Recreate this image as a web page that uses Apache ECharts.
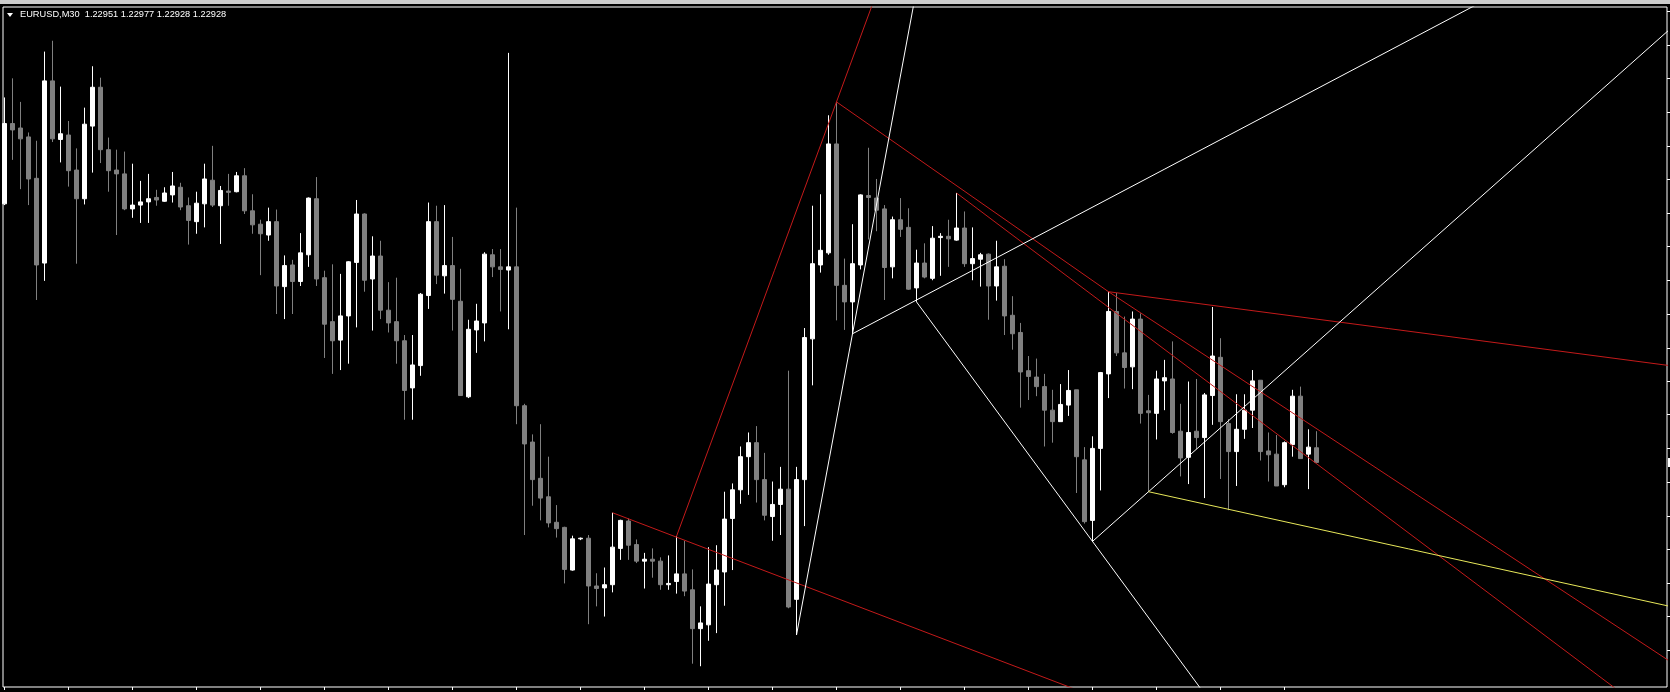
<!DOCTYPE html>
<html>
<head>
<meta charset="utf-8">
<script src="https://cdn.jsdelivr.net/npm/echarts@6/dist/echarts.min.js"></script>
<style>
  html, body { margin: 0; padding: 0; background: #000; }
  #chart { width: 1670px; height: 692px; }
</style>
</head>
<body>
<div id="chart"></div>
<script>
// EURUSD, 30-minute bars
const symbol = 'EURUSD';
const period = 'M30';

const opens = [
  1.23334,1.23460,1.23453,1.23439,1.23374,1.23241,1.23527,1.23435,1.23442,1.23387,
  1.23342,1.23456,1.23517,1.23419,1.23387,1.23381,1.23326,1.23332,1.23337,1.23344,
  1.23338,1.23348,1.23360,1.23331,1.23306,1.23334,1.23371,1.23331,1.23354,1.23353,
  1.23378,1.23323,1.23302,1.23285,1.23306,1.23204,1.23238,1.23212,1.23254,1.23342,
  1.23218,1.23149,1.23120,1.23158,1.23242,1.23318,1.23216,1.23252,1.23167,1.23149,
  1.23119,1.23045,1.23080,1.23190,1.23306,1.23221,1.23237,1.23181,1.23031,1.23136,
  1.23147,1.23254,1.23235,1.23230,1.23235,1.23017,1.22960,1.22903,1.22874,1.22834,
  1.22826,1.22759,1.22808,1.22809,1.22734,1.22731,1.22736,1.22793,1.22836,1.22799,
  1.22773,1.22776,1.22773,1.22736,1.22741,1.22753,1.22728,1.22667,1.22673,1.22736,
  1.22756,1.22840,1.22885,1.22937,1.22959,1.22901,1.22843,1.22862,1.22886,1.22713,
  1.22901,1.23122,1.23238,1.23257,1.23428,1.23206,1.23180,1.23238,1.23347,1.23343,
  1.23326,1.23235,1.23309,1.23297,1.23202,1.23241,1.23217,1.23281,1.23283,1.23277,
  1.23296,1.23240,1.23247,1.23255,1.23205,1.23236,1.23159,1.23132,1.23072,1.23062,
  1.23047,1.23010,1.22992,1.23018,1.23042,1.22932,1.22837,1.22950,1.23067,1.23165,
  1.23100,1.23078,1.23153,1.23009,1.23005,1.23056,1.23059,1.22977,1.22936,1.22977,
  1.22967,1.23033,1.23093,1.22989,1.22945,1.22980,1.23010,1.23057,1.22946,1.22941,
  1.22893,1.22956,1.23032,1.22941,1.22951
];
const highs = [
  1.23501,1.23531,1.23494,1.23446,1.23433,1.23573,1.23590,1.23518,1.23464,1.23421,
  1.23485,1.23550,1.23532,1.23438,1.23419,1.23416,1.23397,1.23370,1.23381,1.23356,
  1.23360,1.23384,1.23367,1.23344,1.23353,1.23397,1.23425,1.23362,1.23381,1.23384,
  1.23390,1.23349,1.23309,1.23328,1.23325,1.23253,1.23246,1.23288,1.23344,1.23376,
  1.23229,1.23239,1.23224,1.23244,1.23340,1.23319,1.23283,1.23276,1.23211,1.23218,
  1.23128,1.23128,1.23194,1.23336,1.23331,1.23332,1.23282,1.23232,1.23152,1.23177,
  1.23258,1.23263,1.23263,1.23571,1.23328,1.23020,1.22972,1.22988,1.22937,1.22861,
  1.22827,1.22813,1.22810,1.22814,1.22754,1.22763,1.22849,1.22838,1.22840,1.22807,
  1.22786,1.22793,1.22779,1.22782,1.22812,1.22805,1.22760,1.22702,1.22795,1.22798,
  1.22882,1.22895,1.22953,1.22975,1.22985,1.22943,1.22898,1.22921,1.23072,1.22921,
  1.23139,1.23331,1.23349,1.23473,1.23494,1.23248,1.23302,1.23349,1.23422,1.23373,
  1.23332,1.23314,1.23343,1.23327,1.23262,1.23272,1.23299,1.23288,1.23309,1.23351,
  1.23322,1.23297,1.23257,1.23256,1.23276,1.23247,1.23189,1.23147,1.23095,1.23091,
  1.23067,1.23042,1.23051,1.23073,1.23042,1.22952,1.22969,1.23070,1.23196,1.23194,
  1.23157,1.23165,1.23162,1.23034,1.23072,1.23089,1.23118,1.23020,1.23055,1.23059,
  1.23037,1.23172,1.23123,1.22996,1.23035,1.23035,1.23073,1.23057,1.22975,1.22971,
  1.22961,1.23042,1.23047,1.22980,1.22977
];
const lows = [
  1.23332,1.23403,1.23357,1.23332,1.23183,1.23213,1.23431,1.23399,1.23361,1.23240,
  1.23333,1.23383,1.23398,1.23353,1.23285,1.23324,1.23312,1.23304,1.23304,1.23331,
  1.23337,1.23336,1.23324,1.23270,1.23287,1.23297,1.23329,1.23271,1.23331,1.23352,
  1.23318,1.23287,1.23222,1.23276,1.23161,1.23153,1.23161,1.23205,1.23235,1.23205,
  1.23092,1.23067,1.23073,1.23083,1.23140,1.23196,1.23135,1.23153,1.23132,1.23083,
  1.22995,1.22995,1.23064,1.23169,1.23208,1.23193,1.23135,1.23033,1.23029,1.23100,
  1.23118,1.23219,1.23165,1.23137,1.22988,1.22814,1.22860,1.22837,1.22826,1.22810,
  1.22738,1.22758,1.22806,1.22674,1.22702,1.22686,1.22724,1.22775,1.22775,1.22770,
  1.22730,1.22747,1.22728,1.22728,1.22722,1.22718,1.22612,1.22608,1.22648,1.22660,
  1.22703,1.22759,1.22863,1.22877,1.22865,1.22837,1.22805,1.22814,1.22699,1.22657,
  1.22828,1.23049,1.23226,1.23254,1.23151,1.23136,1.23130,1.23231,1.23278,1.23291,
  1.23183,1.23217,1.23282,1.23199,1.23180,1.23217,1.23214,1.23221,1.23235,1.23276,
  1.23235,1.23214,1.23204,1.23152,1.23182,1.23128,1.23105,1.23014,1.23026,1.23032,
  1.22953,1.22959,1.22992,1.23001,1.22880,1.22832,1.22804,1.22884,1.23029,1.23095,
  1.23044,1.23043,1.22989,1.22882,1.22964,1.23010,1.22973,1.22906,1.22894,1.22949,
  1.22872,1.22987,1.22902,1.22853,1.22891,1.22965,1.22982,1.22931,1.22898,1.22891,
  1.22889,1.22937,1.22934,1.22886,1.22928
];
const closes = [
  1.23460,1.23450,1.23436,1.23373,1.23238,1.23527,1.23436,1.23444,1.23386,1.23342,
  1.23459,1.23517,1.23419,1.23386,1.23381,1.23326,1.23332,1.23337,1.23342,1.23340,
  1.23351,1.23362,1.23329,1.23308,1.23335,1.23373,1.23332,1.23355,1.23352,1.23378,
  1.23323,1.23301,1.23287,1.23306,1.23205,1.23237,1.23212,1.23257,1.23343,1.23216,
  1.23145,1.23119,1.23158,1.23243,1.23318,1.23214,1.23252,1.23167,1.23147,1.23119,
  1.23041,1.23081,1.23192,1.23306,1.23222,1.23237,1.23184,1.23033,1.23137,1.23150,
  1.23255,1.23235,1.23231,1.23235,1.23017,1.22957,1.22901,1.22872,1.22833,1.22824,
  1.22760,1.22808,1.22809,1.22734,1.22730,1.22736,1.22795,1.22837,1.22798,1.22773,
  1.22776,1.22773,1.22736,1.22738,1.22753,1.22726,1.22667,1.22676,1.22737,1.22759,
  1.22839,1.22885,1.22937,1.22959,1.22901,1.22845,1.22862,1.22886,1.22701,1.22901,
  1.23124,1.23240,1.23261,1.23428,1.23206,1.23180,1.23240,1.23348,1.23344,1.23324,
  1.23234,1.23309,1.23294,1.23200,1.23241,1.23219,1.23280,1.23283,1.23279,1.23296,
  1.23240,1.23248,1.23254,1.23205,1.23235,1.23158,1.23130,1.23070,1.23063,1.23047,
  1.23010,1.22992,1.23019,1.23041,1.22937,1.22835,1.22950,1.23069,1.23165,1.23100,
  1.23077,1.23153,1.23005,1.23006,1.23059,1.23061,1.22975,1.22935,1.22975,1.22967,
  1.23034,1.23095,1.22992,1.22945,1.22980,1.23010,1.23056,1.22945,1.22940,1.22891,
  1.22959,1.23032,1.22934,1.22952,1.22928
];

// time-scale tick every 8 bars (4 hours)
const timeTickStep = 8;
// price-scale tick values
const priceTicks = [
  1.22633,1.22686,1.22739,1.22791,1.22844,1.22897,1.22950,1.23003,1.23055,1.23108,
  1.23161,1.23214,1.23267,1.23319,1.23372,1.23425,1.23478,1.23531,1.23583,1.23636
];

// trend lines: [bar index, price] anchor pairs
const redRays = [
  [[76, 1.22849], [100, 1.22734]],
  [[84, 1.22812], [104, 1.23494]],
  [[119, 1.23351], [164, 1.22926]],
  [[138, 1.23196], [164, 1.23153]],
  [[138, 1.23196], [164, 1.22981]]
];
const redSegments = [
  [[104, 1.23494], [138, 1.23196]]
];
const whiteRays = [
  [[99, 1.22657], [106, 1.23130]],
  [[106, 1.23130], [114, 1.23183]],
  [[114, 1.23180], [136, 1.22804]],
  [[136, 1.22804], [143, 1.22882]]
];
const yellowRays = [
  [[143, 1.22882], [164, 1.22824]]
];

// visible window: bar spacing 8px, room on the right for the chart shift
const X_MIN = -0.1875;
const X_MAX = 207.8125;
const PRICE_MIN = 1.225754;
const PRICE_MAX = 1.23643;

const RED = '#c41a1a';
const WHITE = '#ffffff';
const YELLOW = '#e8e85a';

function rayPoints(a, b) {
  const slope = (b[1] - a[1]) / (b[0] - a[0]);
  const xEnd = X_MAX + 2;
  return [a, [xEnd, a[1] + slope * (xEnd - a[0])]];
}

function lineSeries(points, color) {
  return {
    type: 'line',
    data: points,
    symbol: 'none',
    silent: true,
    clip: true,
    animation: false,
    z: 3,
    lineStyle: { color: color, width: 1 }
  };
}

const timeTicks = [];
for (let i = 0; i < opens.length; i += timeTickStep) timeTicks.push(i);

const candles = opens.map((o, i) => [i, o, closes[i], lows[i], highs[i]]);

const series = [{
  type: 'candlestick',
  data: candles,
  encode: { x: 0, y: [1, 2, 3, 4] },
  barWidth: 4,
  silent: true,
  clip: true,
  animation: false,
  z: 2,
  itemStyle: {
    color: '#ffffff', color0: '#808080',
    borderColor: '#ffffff', borderColor0: '#808080',
    borderWidth: 1
  }
}];
redRays.forEach(r => series.push(lineSeries(rayPoints(r[0], r[1]), RED)));
redSegments.forEach(s => series.push(lineSeries(s, RED)));
whiteRays.forEach(r => series.push(lineSeries(rayPoints(r[0], r[1]), WHITE)));
yellowRays.forEach(r => series.push(lineSeries(rayPoints(r[0], r[1]), YELLOW)));

const last = opens.length - 1;
const header = symbol + ',' + period + '  ' +
  [opens[last], highs[last], lows[last], closes[last]].map(v => v.toFixed(5)).join(' ');

const chart = echarts.init(document.getElementById('chart'), null, { renderer: 'canvas' });
chart.setOption({
  backgroundColor: '#000000',
  animation: false,
  grid: {
    left: 3, right: 3, top: 7, bottom: 5,
    show: true, borderColor: '#ffffff', borderWidth: 1, backgroundColor: '#000000',
    containLabel: false, outerBoundsMode: 'none'
  },
  xAxis: {
    type: 'value', min: X_MIN, max: X_MAX, position: 'bottom',
    axisLine: { show: false, onZero: false }, splitLine: { show: false }, axisLabel: { show: false },
    axisTick: { show: true, length: 3, lineStyle: { color: '#ffffff', width: 1 }, customValues: timeTicks }
  },
  yAxis: {
    type: 'value', position: 'right', min: PRICE_MIN, max: PRICE_MAX, scale: true,
    axisLine: { show: false, onZero: false }, splitLine: { show: false }, axisLabel: { show: false },
    axisTick: { show: true, length: 3, lineStyle: { color: '#ffffff', width: 1 }, customValues: priceTicks }
  },
  series: series,
  graphic: [
    { id: 'titlebar', type: 'rect', shape: { x: 0, y: 0, width: 1670, height: 4 }, style: { fill: '#cdcdcd' }, silent: true },
    { id: 'menuArrow', type: 'polygon', shape: { points: [[7, 13], [13, 13], [10, 17]] }, style: { fill: '#ffffff' }, silent: true },
    { id: 'header', type: 'text', x: 20, y: 10,
      style: { text: header, fill: '#ffffff', font: '9.25px "Liberation Sans", Arial, sans-serif', textVerticalAlign: 'top', verticalAlign: 'top' },
      silent: true }
  ]
});

// small bid marker on the price scale at the last close
const bidY = chart.convertToPixel({ yAxisIndex: 0 }, closes[last]);
chart.setOption({
  graphic: [
    { id: 'bidMark', type: 'rect', shape: { x: 1668, y: Math.round(bidY) - 4, width: 2, height: 9 }, style: { fill: '#ffffff' }, silent: true }
  ]
});
</script>
</body>
</html>
